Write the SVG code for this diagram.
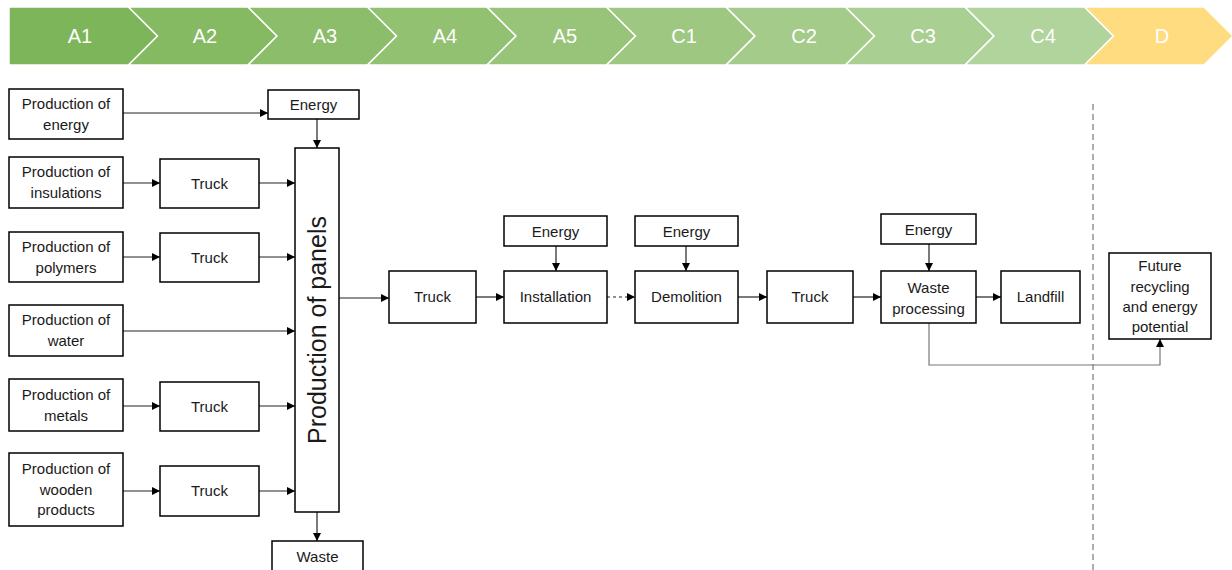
<svg xmlns="http://www.w3.org/2000/svg" width="1232" height="570" viewBox="0 0 1232 570">
<style>
.band{stroke:#ffffff;stroke-width:1.5}
.bt{font-family:"Liberation Sans",Arial,sans-serif;font-size:20px;fill:#ffffff;text-anchor:middle}
.box{fill:#ffffff;stroke:#000000;stroke-width:1.5}
.t{font-family:"Liberation Sans",Arial,sans-serif;font-size:15px;fill:#1a1a1a;text-anchor:middle}
.c{fill:none;stroke:#222222;stroke-width:1.2}
.g{fill:none;stroke:#777777;stroke-width:1.2}
</style>
<defs>
<marker id="ah" viewBox="0 0 10 10" refX="10" refY="5" markerWidth="8" markerHeight="8" markerUnits="userSpaceOnUse" orient="auto">
<path d="M0,0 L10,5 L0,10 z" fill="#000000"/>
</marker>
</defs>
<g id="banner">
<polygon class="band" fill="#7db55a" points="9,7 128.5,7 157.5,36 128.5,65 9,65"/>
<polygon class="band" fill="#85ba62" points="128.5,7 248,7 277,36 248,65 128.5,65 157.5,36"/>
<polygon class="band" fill="#8cbd6a" points="248,7 367.5,7 396.5,36 367.5,65 248,65 277,36"/>
<polygon class="band" fill="#92c172" points="367.5,7 487,7 516,36 487,65 367.5,65 396.5,36"/>
<polygon class="band" fill="#98c47a" points="487,7 606.5,7 635.5,36 606.5,65 487,65 516,36"/>
<polygon class="band" fill="#9ec882" points="606.5,7 726,7 755,36 726,65 606.5,65 635.5,36"/>
<polygon class="band" fill="#a4cb8a" points="726,7 845.5,7 874.5,36 845.5,65 726,65 755,36"/>
<polygon class="band" fill="#aacf93" points="845.5,7 965,7 994,36 965,65 845.5,65 874.5,36"/>
<polygon class="band" fill="#b1d39c" points="965,7 1084.5,7 1113.5,36 1084.5,65 965,65 994,36"/>
<polygon class="band" fill="#ffdc80" points="1084.5,7 1204,7 1233,36 1204,65 1084.5,65 1113.5,36"/>
<text class="bt" x="80" y="43">A1</text>
<text class="bt" x="205" y="43">A2</text>
<text class="bt" x="325" y="43">A3</text>
<text class="bt" x="445" y="43">A4</text>
<text class="bt" x="565" y="43">A5</text>
<text class="bt" x="684" y="43">C1</text>
<text class="bt" x="804" y="43">C2</text>
<text class="bt" x="923" y="43">C3</text>
<text class="bt" x="1043" y="43">C4</text>
<text class="bt" x="1162" y="43">D</text>
</g>
<g id="connectors">
<path class="c" d="M123,113 H268" marker-end="url(#ah)"/>
<path class="c" d="M317,119 V148" marker-end="url(#ah)"/>
<path class="c" d="M123,183 H160" marker-end="url(#ah)"/>
<path class="c" d="M259,183 H295" marker-end="url(#ah)"/>
<path class="c" d="M123,257 H160" marker-end="url(#ah)"/>
<path class="c" d="M259,257 H295" marker-end="url(#ah)"/>
<path class="c" d="M123,331 H295" marker-end="url(#ah)"/>
<path class="c" d="M123,406 H160" marker-end="url(#ah)"/>
<path class="c" d="M259,406 H295" marker-end="url(#ah)"/>
<path class="c" d="M123,491 H160" marker-end="url(#ah)"/>
<path class="c" d="M259,491 H295" marker-end="url(#ah)"/>
<path class="c" d="M317,512 V541" marker-end="url(#ah)"/>
<path class="c" d="M339,298 H389" marker-end="url(#ah)"/>
<path class="c" d="M476,297 H504" marker-end="url(#ah)"/>
<path class="c" d="M556,246 V271" marker-end="url(#ah)"/>
<path class="c" d="M607,297 H635" stroke-dasharray="3,3" marker-end="url(#ah)"/>
<path class="c" d="M686,246 V271" marker-end="url(#ah)"/>
<path class="c" d="M738,297 H767" marker-end="url(#ah)"/>
<path class="c" d="M853,297 H881" marker-end="url(#ah)"/>
<path class="c" d="M929,244 V271" marker-end="url(#ah)"/>
<path class="c" d="M976,297 H1001" marker-end="url(#ah)"/>
<path class="g" d="M929,323 V365 H1160 V339" marker-end="url(#ah)"/>
<path d="M1093,104 V570" stroke="#777777" stroke-width="1.2" stroke-dasharray="6,4" fill="none"/>
</g>
<g id="prod-energy"><rect class="box" x="9" y="89" width="114" height="50"/><text class="t" x="66" y="109">Production of</text><text class="t" x="66" y="130">energy</text></g>
<g id="energy-a3"><rect class="box" x="268" y="90" width="91" height="29"/><text class="t" x="313.5" y="110">Energy</text></g>
<g id="prod-insulations"><rect class="box" x="9" y="157" width="114" height="51"/><text class="t" x="66" y="177">Production of</text><text class="t" x="66" y="198">insulations</text></g>
<g id="truck-1"><rect class="box" x="160" y="159" width="99" height="49"/><text class="t" x="209.5" y="189">Truck</text></g>
<g id="prod-polymers"><rect class="box" x="9" y="232" width="114" height="50"/><text class="t" x="66" y="252">Production of</text><text class="t" x="66" y="273">polymers</text></g>
<g id="truck-2"><rect class="box" x="160" y="233" width="99" height="49"/><text class="t" x="209.5" y="263">Truck</text></g>
<g id="prod-water"><rect class="box" x="9" y="305" width="114" height="51"/><text class="t" x="66" y="325">Production of</text><text class="t" x="66" y="346">water</text></g>
<g id="prod-metals"><rect class="box" x="9" y="379" width="114" height="52"/><text class="t" x="66" y="400">Production of</text><text class="t" x="66" y="421">metals</text></g>
<g id="truck-3"><rect class="box" x="160" y="382" width="99" height="49"/><text class="t" x="209.5" y="412">Truck</text></g>
<g id="prod-wooden"><rect class="box" x="9" y="453" width="114" height="73"/><text class="t" x="66" y="474">Production of</text><text class="t" x="66" y="495">wooden</text><text class="t" x="66" y="515">products</text></g>
<g id="truck-4"><rect class="box" x="160" y="466" width="99" height="50"/><text class="t" x="209.5" y="496">Truck</text></g>
<g id="panels"><rect class="box" x="295" y="148" width="44" height="364"/><text font-family="Liberation Sans,Arial,sans-serif" font-size="25" fill="#1a1a1a" text-anchor="middle" transform="translate(326,330) rotate(-90)">Production of panels</text></g>
<g id="waste"><rect class="box" x="272" y="541" width="91" height="40"/><text class="t" x="317.5" y="562">Waste</text></g>
<g id="truck-a4"><rect class="box" x="389" y="271" width="87" height="52"/><text class="t" x="432.5" y="302">Truck</text></g>
<g id="energy-a5"><rect class="box" x="504" y="216" width="103" height="30"/><text class="t" x="555.5" y="237">Energy</text></g>
<g id="installation"><rect class="box" x="504" y="271" width="103" height="52"/><text class="t" x="555.5" y="302">Installation</text></g>
<g id="energy-c1"><rect class="box" x="635" y="216" width="103" height="30"/><text class="t" x="686.5" y="237">Energy</text></g>
<g id="demolition"><rect class="box" x="635" y="271" width="103" height="52"/><text class="t" x="686.5" y="302">Demolition</text></g>
<g id="truck-c2"><rect class="box" x="767" y="271" width="86" height="52"/><text class="t" x="810" y="302">Truck</text></g>
<g id="energy-c3"><rect class="box" x="881" y="214" width="95" height="30"/><text class="t" x="928.5" y="235">Energy</text></g>
<g id="waste-processing"><rect class="box" x="881" y="271" width="95" height="52"/><text class="t" x="928.5" y="293">Waste</text><text class="t" x="928.5" y="314">processing</text></g>
<g id="landfill"><rect class="box" x="1001" y="271" width="79" height="52"/><text class="t" x="1040.5" y="302">Landfill</text></g>
<g id="future"><rect class="box" x="1109" y="253" width="102" height="86"/><text class="t" x="1160" y="271">Future</text><text class="t" x="1160" y="292">recycling</text><text class="t" x="1160" y="312">and energy</text><text class="t" x="1160" y="332">potential</text></g>
</svg>
